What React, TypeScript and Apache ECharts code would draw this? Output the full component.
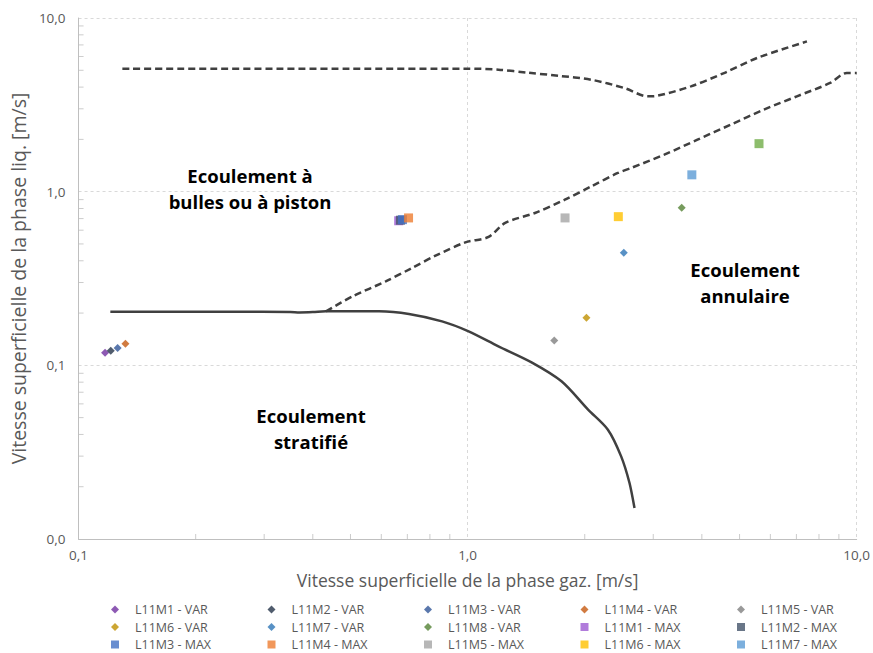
import React, { useEffect, useRef } from "react";
import * as echarts from "echarts";

// ---- Data ----
const pointNames = [
  "L11M1 - VAR", "L11M2 - VAR", "L11M3 - VAR", "L11M4 - VAR", "L11M5 - VAR",
  "L11M6 - VAR", "L11M7 - VAR", "L11M8 - VAR",
  "L11M1 - MAX", "L11M2 - MAX", "L11M3 - MAX", "L11M4 - MAX", "L11M5 - MAX",
  "L11M6 - MAX", "L11M7 - MAX", "L11M8 - MAX",
];
const pointX = [0.117, 0.121, 0.126, 0.132, 1.67, 2.02, 2.52, 3.55, 0.665, 0.672, 0.68, 0.705, 1.78, 2.44, 3.77, 5.61];
const pointY = [0.118, 0.1215, 0.126, 0.133, 0.139, 0.188, 0.445, 0.809, 0.68, 0.685, 0.69, 0.706, 0.706, 0.718, 1.25, 1.89];
const pointColors = [
  "#7030A0", "#243349", "#2F5597", "#C55A11", "#7F7F7F", "#BF9000", "#2E75B6", "#548235",
  "#9E5BD2", "#44546A", "#4472C4", "#ED7D31", "#A5A5A5", "#FFC000", "#5B9BD5", "#70AD47",
];
const pointSymbols = [
  "diamond", "diamond", "diamond", "diamond", "diamond", "diamond", "diamond", "diamond",
  "rect", "rect", "rect", "rect", "rect", "rect", "rect", "rect",
];

// Stratified boundary (solid)
const stratX = [0.1207, 0.25, 0.35, 0.37, 0.40, 0.4325, 0.592, 0.7065, 0.8597, 1.006, 1.2, 1.46, 1.743, 2.04, 2.294, 2.481, 2.607, 2.685];
const stratY = [0.2038, 0.2035, 0.2028, 0.2015, 0.2025, 0.2046, 0.2046, 0.1977, 0.1792, 0.157, 0.1286, 0.104, 0.0809, 0.0556, 0.0426, 0.0299, 0.021, 0.0151];

// Bubble / piston upper boundary (dashed)
const upperX = [0.1296, 0.5, 1.0, 1.2, 1.432, 1.709, 2.08, 2.53, 2.904, 3.08, 3.75, 4.56, 5.55, 7.45];
const upperY = [5.11, 5.1, 5.11, 5.04, 4.84, 4.65, 4.41, 3.95, 3.54, 3.57, 4.04, 4.82, 5.89, 7.33];

// Annular boundary (dashed)
const annX = [0.4325, 0.506, 0.616, 0.72, 0.827, 0.987, 1.132, 1.249, 1.49, 1.778, 2.08, 2.433, 2.632, 3.203, 3.898, 4.742, 5.77, 7.02, 8.545, 9.428, 10];
const annY = [0.2046, 0.2495, 0.3045, 0.3637, 0.428, 0.5106, 0.5485, 0.6603, 0.754, 0.899, 1.073, 1.281, 1.369, 1.633, 1.993, 2.43, 2.965, 3.54, 4.225, 4.825, 4.825];

// Minor tick positions (log decades)
const minorMultipliers = [2, 3, 4, 5, 6, 7, 8, 9];
const xDecades = [0.1, 1];
const yDecades = [0.01, 0.1, 1];

// Legend layout: rows of names (5 columns)
const legendRows = [
  ["L11M1 - VAR", "L11M2 - VAR", "L11M3 - VAR", "L11M4 - VAR", "L11M5 - VAR"],
  ["L11M6 - VAR", "L11M7 - VAR", "L11M8 - VAR", "L11M1 - MAX", "L11M2 - MAX"],
  ["L11M3 - MAX", "L11M4 - MAX", "L11M5 - MAX", "L11M6 - MAX", "L11M7 - MAX"],
];

const regionLabels = [
  { text: "Ecoulement à\nbulles ou à piston", cx: 250, top: 162 },
  { text: "Ecoulement\nannulaire", cx: 745, top: 256 },
  { text: "Ecoulement\nstratifié", cx: 311, top: 402 },
];

const fmt = (v: number) => v.toFixed(1).replace(".", ",");

export default function App() {
  const ref = useRef<HTMLDivElement>(null);
  useEffect(() => {
    if (!ref.current) return;
    const chart = echarts.init(ref.current, undefined, { renderer: "svg" });
    const font = "'Open Sans', 'Noto Sans', sans-serif";
    const lineColor = "#404040";

    const xMinor: number[][] = [];
    xDecades.forEach((d) => minorMultipliers.forEach((m) => xMinor.push([d * m, 0.01])));
    const yMinor: number[][] = [];
    yDecades.forEach((d) => minorMultipliers.forEach((m) => yMinor.push([0.1, d * m])));

    const scatterSeries = pointNames.map((name, i) => ({
      name,
      type: "scatter",
      symbol: pointSymbols[i],
      symbolSize: pointSymbols[i] === "diamond" ? 8 : 9,
      itemStyle: { color: pointColors[i] },
      data: [[pointX[i], pointY[i]]],
      z: 5,
    }));

    const legends: any[] = [];
    legendRows.forEach((row, ri) =>
      row.forEach((name, ci) => {
        legends.push({
          data: [name],
          orient: "horizontal",
          left: 111 + ci * 156.5,
          top: 603 + ri * 17.5,
          itemWidth: 8,
          itemHeight: 8,
          padding: 0,
          textStyle: { fontFamily: font, fontSize: 12.5, color: "#595959", padding: [0, 0, 0, 11] },
          selectedMode: false,
        });
      })
    );

    chart.setOption({
      animation: false,
      backgroundColor: "#ffffff",
      textStyle: { fontFamily: font },
      grid: { left: 78, right: 13, top: 18, bottom: 114, containLabel: false },
      legend: legends,
      xAxis: {
        type: "log",
        logBase: 10,
        min: 0.1,
        max: 10,
        name: "Vitesse superficielle de la phase gaz. [m/s]",
        nameLocation: "middle",
        nameGap: 32,
        nameTextStyle: { fontSize: 17.5, color: "#595959", fontFamily: font },
        axisLine: { show: true, lineStyle: { color: "#BFBFBF", width: 1 } },
        axisTick: { show: false },
        axisLabel: { formatter: fmt, fontSize: 13.5, color: "#595959", margin: 9, fontFamily: font },
        splitLine: { show: true, lineStyle: { color: "#D9D9D9", type: [3, 3], width: 1 } },
      },
      yAxis: {
        type: "log",
        logBase: 10,
        min: 0.01,
        max: 10,
        name: "Vitesse superficielle de la phase liq. [m/s]",
        nameLocation: "middle",
        nameGap: 50,
        nameTextStyle: { fontSize: 19.5, color: "#595959", fontFamily: font },
        axisLine: { show: true, lineStyle: { color: "#BFBFBF", width: 1 } },
        axisTick: { show: false },
        axisLabel: { formatter: fmt, fontSize: 13.5, color: "#595959", margin: 13, fontFamily: font },
        splitLine: { show: true, lineStyle: { color: "#D9D9D9", type: [3, 3], width: 1 } },
      },
      series: [
        {
          name: "minorX",
          type: "scatter",
          symbol: "rect",
          symbolSize: [1, 5],
          symbolOffset: [0, -2.5],
          itemStyle: { color: "#BFBFBF" },
          data: xMinor,
          clip: false,
          silent: true,
          z: 1,
        },
        {
          name: "minorY",
          type: "scatter",
          symbol: "rect",
          symbolSize: [5, 1],
          symbolOffset: [2.5, 0],
          itemStyle: { color: "#BFBFBF" },
          data: yMinor,
          clip: false,
          silent: true,
          z: 1,
        },
        {
          name: "stratifie",
          type: "line",
          showSymbol: false,
          smooth: 0.3,
          lineStyle: { color: lineColor, width: 2.5 },
          data: stratX.map((x, i) => [x, stratY[i]]),
          z: 3,
        },
        {
          name: "bulles",
          type: "line",
          showSymbol: false,
          smooth: 0.3,
          lineStyle: { color: lineColor, width: 2.5, type: [7, 4] },
          data: upperX.map((x, i) => [x, upperY[i]]),
          z: 3,
        },
        {
          name: "annulaire",
          type: "line",
          showSymbol: false,
          smooth: 0.3,
          lineStyle: { color: lineColor, width: 2.5, type: [7, 4] },
          data: annX.map((x, i) => [x, annY[i]]),
          z: 3,
        },
        ...scatterSeries,
      ],
      graphic: regionLabels.map((r) => ({
        type: "text",
        x: r.cx,
        y: r.top,
        z: 10,
        style: {
          text: r.text,
          font: `bold 18.5px ${font}`,
          fill: "#000000",
          align: "center",
          verticalAlign: "top",
          lineHeight: 26,
        },
      })),
    });
    return () => chart.dispose();
  }, []);
  return <div ref={ref} style={{ width: 873, height: 653, position: "absolute", left: 0, top: 0 }} />;
}
